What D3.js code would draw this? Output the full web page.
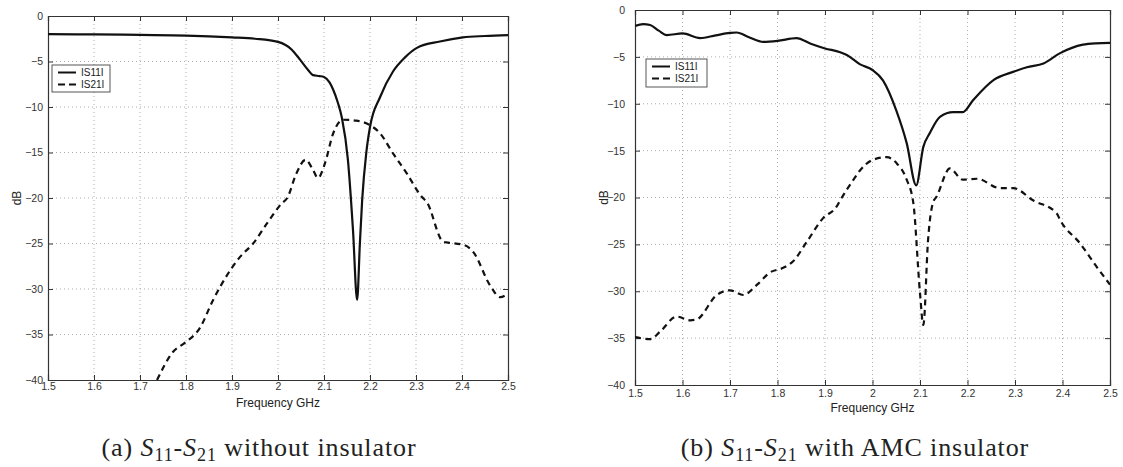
<!DOCTYPE html>
<html>
<head>
<meta charset="utf-8">
<script src="https://cdn.jsdelivr.net/npm/d3@7"></script>
<style>
  body { margin: 0; background: #fff; }
  svg { display: block; }
  .tick text { font-family: "Liberation Sans", Arial, sans-serif; font-size: 10.5px; fill: #333; }
  .lbl { font-family: "Liberation Sans", Arial, sans-serif; font-size: 12px; fill: #222; }
  .leg { font-family: "Liberation Sans", Arial, sans-serif; font-size: 10px; fill: #222; }
  .cap { font-family: "Liberation Serif", "DejaVu Serif", serif; font-size: 26px; fill: #222; letter-spacing: 0.9px; }
</style>
</head>
<body>
<svg id="fig" width="1123" height="467"></svg>
<script>
// Frequency axis ticks (GHz) and magnitude ticks (dB)
const freqTicks = [1.5, 1.6, 1.7, 1.8, 1.9, 2.0, 2.1, 2.2, 2.3, 2.4, 2.5];
const dbTicks = [0, -5, -10, -15, -20, -25, -30, -35, -40];

// (a) without insulator: |S11|
const s11NoIns = [
  [1.50, -2.0], [1.60, -2.02], [1.70, -2.08], [1.80, -2.15], [1.90, -2.35], [1.95, -2.5],
  [2.00, -2.85], [2.03, -3.7], [2.048, -4.8], [2.065, -5.9], [2.076, -6.5], [2.09, -6.6],
  [2.10, -6.7], [2.112, -7.3], [2.12, -8.1], [2.13, -9.5], [2.139, -11.2], [2.152, -15.8],
  [2.163, -23.5], [2.172, -31.2], [2.178, -25.0], [2.183, -20.2], [2.192, -15.0],
  [2.20, -12.2], [2.222, -8.9], [2.25, -6.1], [2.275, -4.6], [2.302, -3.5], [2.352, -2.8],
  [2.402, -2.35], [2.45, -2.2], [2.50, -2.1]
];
// (a) without insulator: |S21|
const s21NoIns = [
  [1.737, -40.0], [1.772, -36.9], [1.798, -35.9], [1.83, -34.3], [1.859, -31.2],
  [1.889, -28.5], [1.917, -26.5], [1.946, -25.0], [1.976, -22.8], [2.008, -20.6],
  [2.02, -20.0], [2.04, -17.3], [2.06, -15.8], [2.075, -16.8], [2.087, -17.8],
  [2.102, -16.2], [2.12, -12.9], [2.141, -11.4], [2.17, -11.5], [2.20, -12.0],
  [2.222, -12.9], [2.25, -15.1], [2.28, -17.3], [2.313, -19.9], [2.323, -20.4],
  [2.359, -24.8], [2.37, -24.9], [2.406, -25.2], [2.424, -25.9], [2.461, -29.6],
  [2.483, -30.9], [2.50, -30.5]
];
// (b) with AMC insulator: |S11|
const s11Amc = [
  [1.50, -1.7], [1.517, -1.5], [1.532, -1.6], [1.55, -2.2], [1.567, -2.67], [1.60, -2.5],
  [1.637, -3.0], [1.67, -2.7], [1.70, -2.45], [1.714, -2.4], [1.74, -2.9], [1.77, -3.4],
  [1.80, -3.3], [1.84, -3.0], [1.87, -3.6], [1.90, -4.1], [1.932, -4.5], [1.946, -4.8],
  [1.974, -5.8], [2.00, -6.4], [2.022, -7.5], [2.05, -10.7], [2.072, -14.2], [2.092, -18.7],
  [2.107, -14.6], [2.121, -13.1], [2.142, -11.4], [2.17, -10.9], [2.19, -10.9],
  [2.212, -9.6], [2.254, -7.5], [2.296, -6.6], [2.325, -6.1], [2.36, -5.7], [2.395, -4.6],
  [2.443, -3.7], [2.47, -3.55], [2.50, -3.5]
];
// (b) with AMC insulator: |S21|
const s21Amc = [
  [1.50, -34.9], [1.532, -35.1], [1.553, -34.3], [1.588, -32.7], [1.616, -33.1],
  [1.63, -33.0], [1.672, -30.4], [1.70, -29.9], [1.728, -30.4], [1.757, -29.3],
  [1.784, -28.0], [1.812, -27.5], [1.833, -26.8], [1.862, -24.7], [1.896, -22.2],
  [1.924, -21.0], [1.932, -20.3], [1.96, -18.1], [1.974, -17.1], [2.00, -16.0],
  [2.03, -15.7], [2.05, -16.3], [2.072, -18.1], [2.086, -20.6], [2.10, -30.2],
  [2.107, -33.6], [2.117, -24.5], [2.127, -20.6], [2.135, -19.9], [2.163, -16.9],
  [2.19, -18.1], [2.22, -18.0], [2.268, -19.0], [2.296, -19.0], [2.338, -20.3],
  [2.388, -21.7], [2.395, -22.4], [2.437, -24.9], [2.472, -27.4], [2.50, -29.3]
];

const seriesNames = ["IS11I", "IS21I"];
const captions = [
  { tag: "(a)", rest: " without insulator" },
  { tag: "(b)", rest: " with AMC insulator" }
];

const svg = d3.select("#fig");

const panels = [
  { x0: 48, x1: 508, y0: 16, y1: 380, s11: s11NoIns, s21: s21NoIns,
    padX: 3, padY: 5, xLabelY: 407,
    leg: { x: 52, y: 65, w: 58, h: 27 }, capX: 259 },
  { x0: 635, x1: 1110, y0: 10, y1: 385, s11: s11Amc, s21: s21Amc,
    padX: 5, padY: 10, xLabelY: 412,
    leg: { x: 646, y: 59, w: 61, h: 28 }, capX: 855 }
];

panels.forEach((p, i) => {
  const x = d3.scaleLinear().domain([1.5, 2.5]).range([p.x0, p.x1]);
  const y = d3.scaleLinear().domain([-40, 0]).range([p.y1, p.y0]);
  const g = svg.append("g");
  const clipId = "clip" + i;
  svg.append("clipPath").attr("id", clipId)
    .append("rect").attr("x", p.x0).attr("y", p.y0)
    .attr("width", p.x1 - p.x0).attr("height", p.y1 - p.y0);

  // dotted grid
  g.append("g").selectAll("line").data(freqTicks.slice(1, -1)).join("line")
    .attr("x1", d => x(d)).attr("x2", d => x(d)).attr("y1", p.y0).attr("y2", p.y1)
    .attr("stroke", "#999").attr("stroke-width", 0.8).attr("stroke-dasharray", "1,3");
  g.append("g").selectAll("line").data(dbTicks.slice(1, -1)).join("line")
    .attr("y1", d => y(d)).attr("y2", d => y(d)).attr("x1", p.x0).attr("x2", p.x1)
    .attr("stroke", "#999").attr("stroke-width", 0.8).attr("stroke-dasharray", "1,3");

  // axes with inward ticks on all four sides
  const fmtX = d => String(+d.toFixed(1));
  const fmtY = d => (d < 0 ? "\u2212" + Math.abs(d) : String(d));
  const axB = g.append("g").attr("transform", `translate(0,${p.y1})`)
    .call(d3.axisBottom(x).tickValues(freqTicks).tickSize(-5).tickPadding(p.padX).tickFormat(fmtX));
  const axT = g.append("g").attr("transform", `translate(0,${p.y0})`)
    .call(d3.axisTop(x).tickValues(freqTicks).tickSize(-5).tickFormat(""));
  const axL = g.append("g").attr("transform", `translate(${p.x0},0)`)
    .call(d3.axisLeft(y).tickValues(dbTicks).tickSize(-5).tickPadding(p.padY).tickFormat(fmtY));
  const axR = g.append("g").attr("transform", `translate(${p.x1},0)`)
    .call(d3.axisRight(y).tickValues(dbTicks).tickSize(-5).tickFormat(""));
  [axB, axT, axL, axR].forEach(a => {
    a.select(".domain").attr("stroke", "#333").attr("stroke-width", 1.2);
    a.selectAll(".tick line").attr("stroke", "#333");
  });

  // axis titles
  g.append("text").attr("class", "lbl").attr("text-anchor", "middle")
    .attr("x", (p.x0 + p.x1) / 2).attr("y", p.xLabelY).text("Frequency GHz");
  g.append("text").attr("class", "lbl").attr("text-anchor", "middle")
    .attr("transform", `translate(${p.x0 - 27},${(p.y0 + p.y1) / 2}) rotate(-90)`)
    .text("dB");

  // curves
  const line = d3.line().x(d => x(d[0])).y(d => y(d[1])).curve(d3.curveMonotoneX);
  const plot = g.append("g").attr("clip-path", `url(#${clipId})`);
  plot.append("path").datum(p.s11).attr("d", line)
    .attr("fill", "none").attr("stroke", "#111").attr("stroke-width", 2.2);
  plot.append("path").datum(p.s21).attr("d", line)
    .attr("fill", "none").attr("stroke", "#111").attr("stroke-width", 2.2)
    .attr("stroke-dasharray", "6,4.5");

  // legend
  const L = p.leg;
  const lg = g.append("g");
  lg.append("rect").attr("x", L.x).attr("y", L.y).attr("width", L.w).attr("height", L.h)
    .attr("fill", "#fff").attr("stroke", "#444").attr("stroke-width", 0.9);
  seriesNames.forEach((name, k) => {
    const yy = L.y + 7.5 + k * 12;
    lg.append("line").attr("x1", L.x + 6).attr("x2", L.x + 24).attr("y1", yy).attr("y2", yy)
      .attr("stroke", "#111").attr("stroke-width", 2)
      .attr("stroke-dasharray", k === 1 ? "7,4" : null);
    lg.append("text").attr("class", "leg").attr("x", L.x + 29).attr("y", yy + 3.5).text(name);
  });

  // caption
  const c = captions[i];
  const t = svg.append("text").attr("class", "cap").attr("text-anchor", "middle")
    .attr("x", p.capX).attr("y", 456);
  t.append("tspan").text(c.tag + " ");
  t.append("tspan").attr("font-style", "italic").text("S");
  t.append("tspan").attr("font-size", "18px").attr("dy", 5).text("11");
  t.append("tspan").attr("dy", -5).text("-");
  t.append("tspan").attr("font-style", "italic").text("S");
  t.append("tspan").attr("font-size", "18px").attr("dy", 5).text("21");
  t.append("tspan").attr("dy", -5).text(c.rest);
});
</script>
</body>
</html>
